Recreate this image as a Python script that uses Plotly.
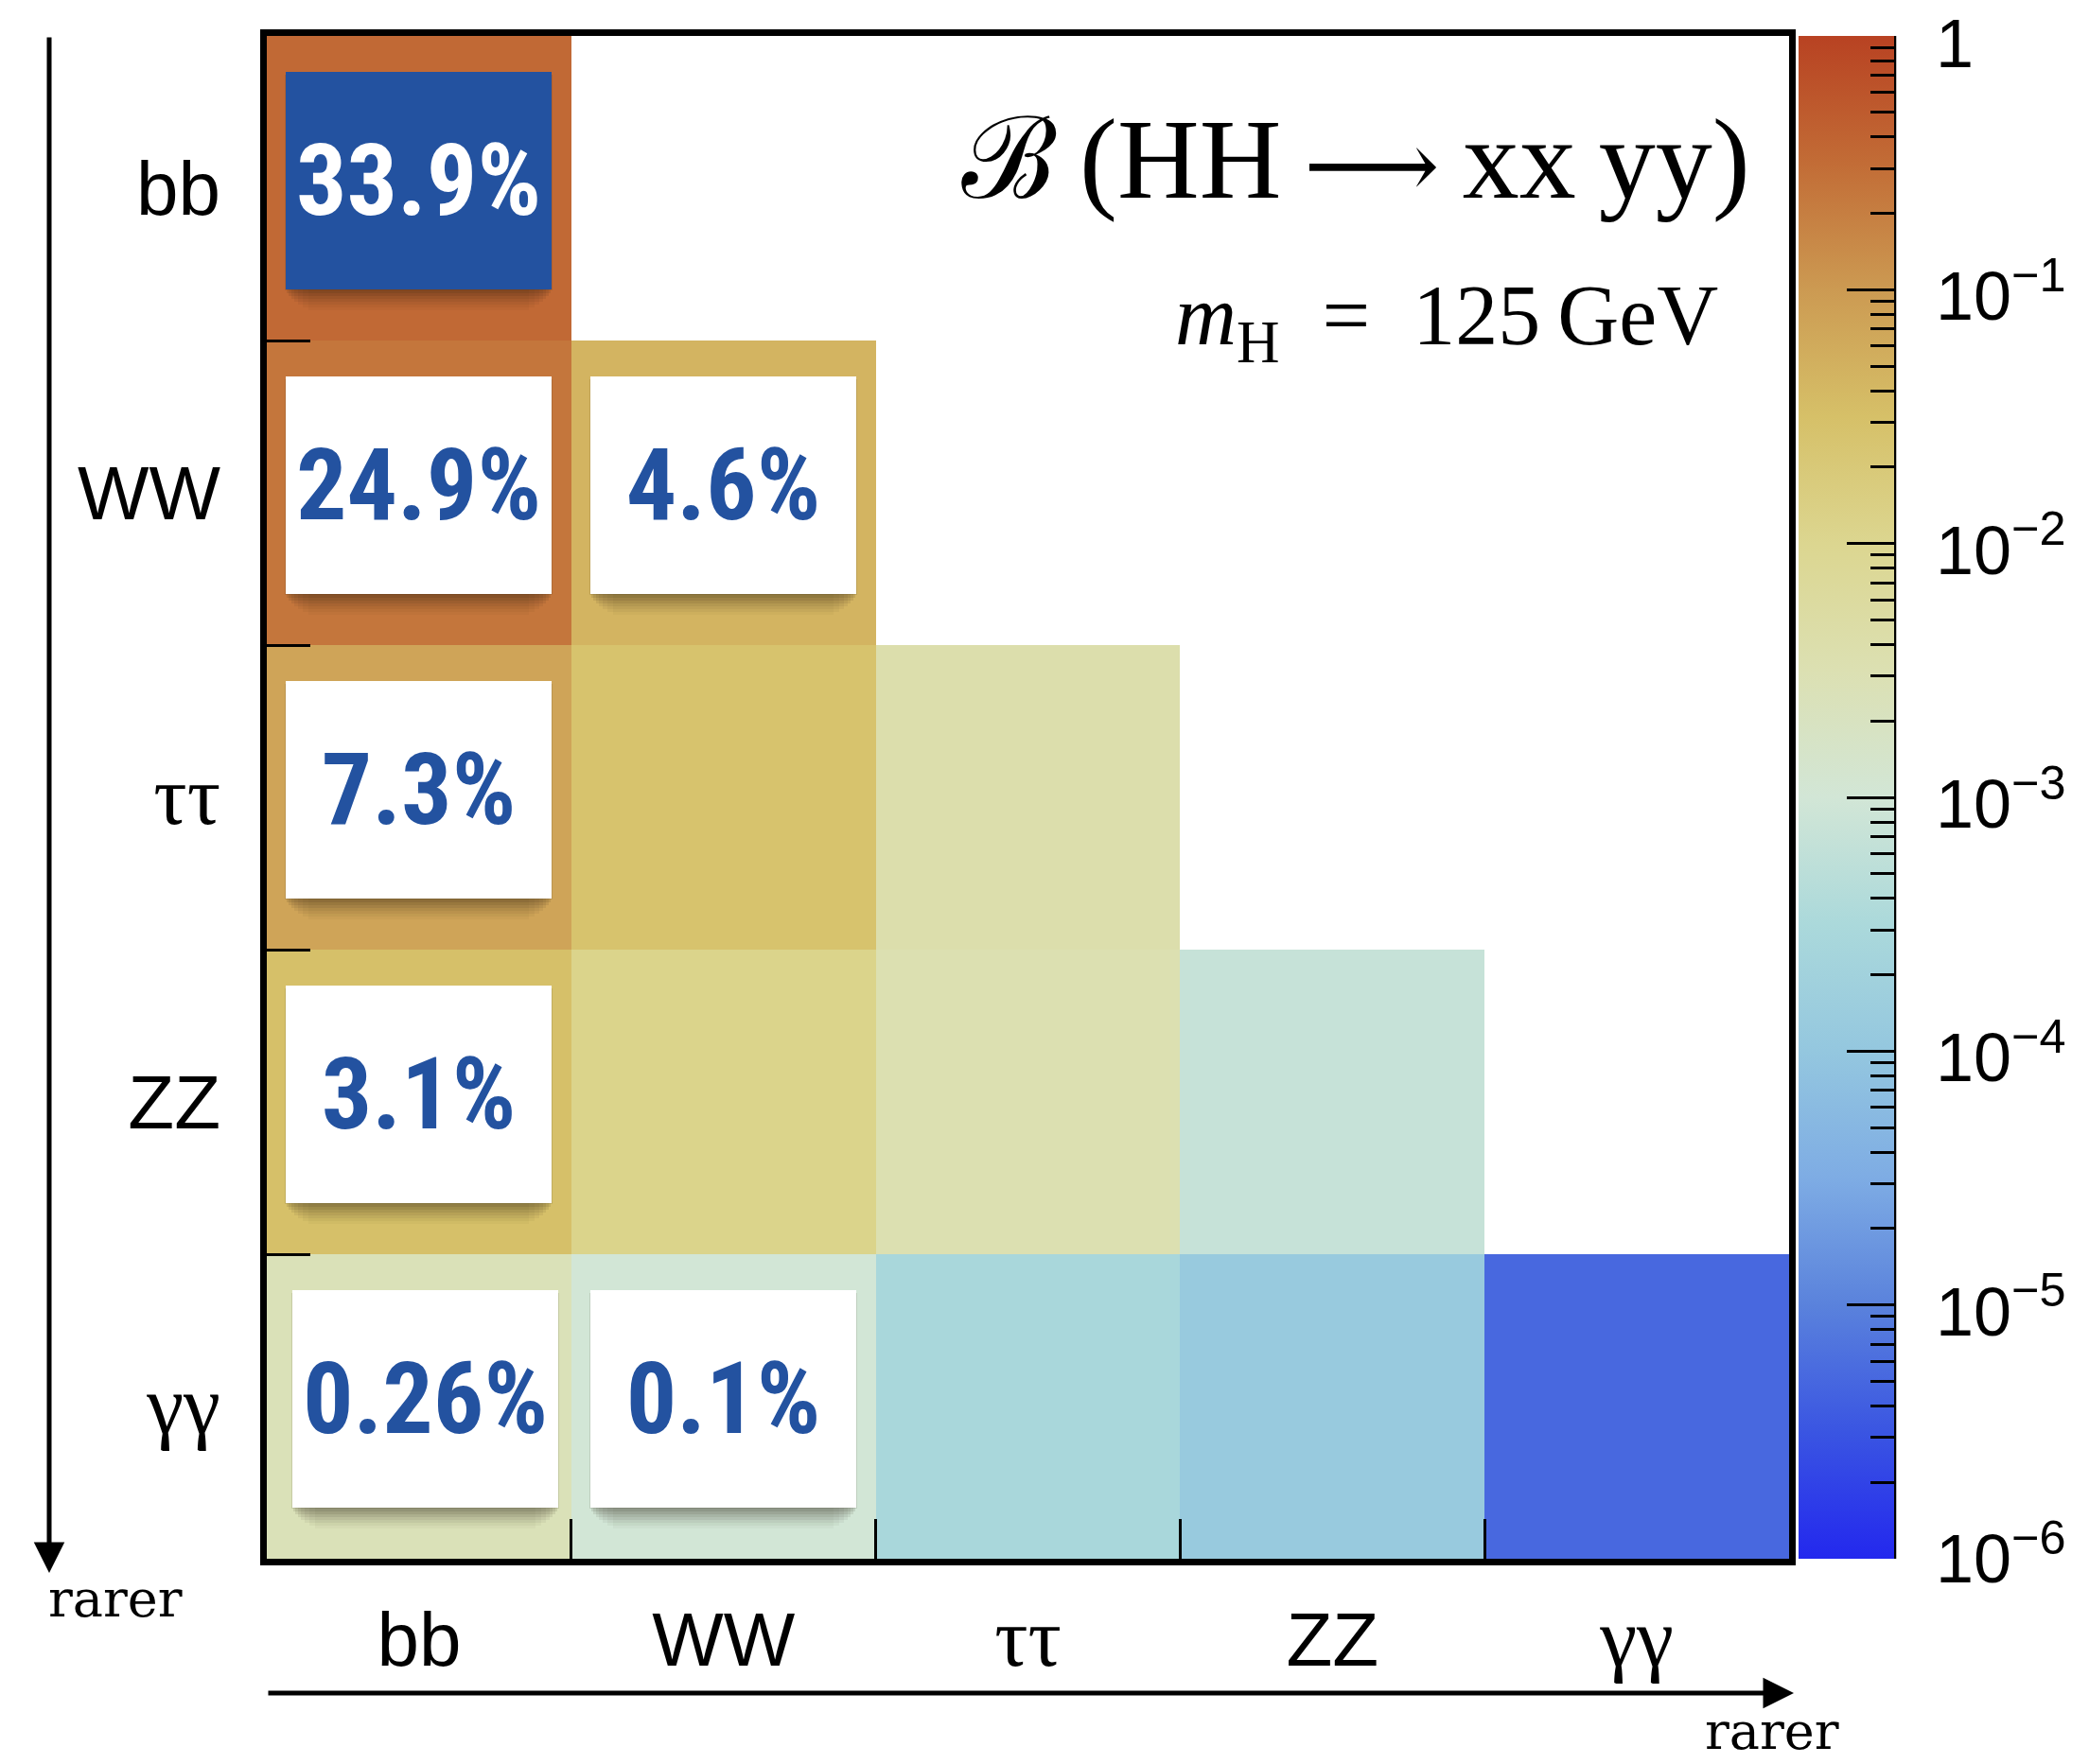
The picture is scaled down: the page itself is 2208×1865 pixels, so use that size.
import math
import plotly.graph_objects as go

# ---------------- data ----------------
channels = ["bb", "WW", "ττ", "ZZ", "γγ"]
serif_greek = "font-family:'Liberation Serif',serif;font-size:88px"
tick_text = ["bb", "WW", f"<span style=\"{serif_greek}\">ττ</span>", "ZZ",
             f"<span style=\"{serif_greek}\">γγ</span>"]

# B(HH -> xx yy): rows = y channel, columns = x channel (lower triangle only)
br_row_bb = [0.339, None, None, None, None]
br_row_WW = [0.249, 0.046, None, None, None]
br_row_tautau = [0.073, 0.027, 0.0039, None, None]
br_row_ZZ = [0.031, 0.0114, 0.0033, 0.0007, None]
br_row_gamgam = [0.0026, 0.0010, 0.00028, 0.00012, 0.0000052]
br_rows = [br_row_bb, br_row_WW, br_row_tautau, br_row_ZZ, br_row_gamgam]

label_x = ["bb", "bb", "WW", "bb", "bb", "bb", "WW"]
label_y = ["bb", "WW", "WW", "ττ", "ZZ", "γγ", "γγ"]
label_text = ["33.9%", "24.9%", "4.6%", "7.3%", "3.1%", "0.26%", "0.1%"]

cbar_tick_exp = [-6, -5, -4, -3, -2, -1, 0]
cbar_tick_text = ["10<sup>−6</sup>", "10<sup>−5</sup>", "10<sup>−4</sup>", "10<sup>−3</sup>",
                  "10<sup>−2</sup>", "10<sup>−1</sup>", "1"]

# ---------------- styling ----------------
z = [[(math.log10(v) if v is not None else None) for v in row] for row in br_rows]
ZMIN, ZMAX = -6, 0

colorscale = [
    [0.0, "#2328EE"],
    [0.0833, "#3A55E2"],
    [0.1667, "#5A82DC"],
    [0.25, "#7EACE4"],
    [0.3333, "#94C7DF"],
    [0.4167, "#ABD9DB"],
    [0.5, "#D2E6D6"],
    [0.5833, "#DCE0B2"],
    [0.6667, "#DCD690"],
    [0.75, "#D6C068"],
    [0.8333, "#CC9A52"],
    [0.9167, "#C26C36"],
    [1.0, "#B84222"],
]
clear_scale = [[0, "rgba(0,0,0,0)"], [1, "rgba(0,0,0,0)"]]

SANS = "Liberation Sans, Arial, sans-serif"
SERIF = "Liberation Serif, Times New Roman, serif"
NARROW = "Liberation Sans Narrow, Arial Narrow, Roboto Condensed, Liberation Sans, sans-serif"

W, H = 2208, 1865
L, R, T, B = 282, 317, 38, 217
PW, PH = W - L - R, H - T - B


def px(xp):
    return (xp - L) / PW


def py(yp):
    return (H - B - yp) / PH


# keep edge ticks just inside the colorbar range so they are drawn
eps = 1e-4
major_pos = [min(max(e, ZMIN + eps), ZMAX - eps) for e in cbar_tick_exp]
# labels sit a touch below their ticks, as in the original
label_pos = [min(max(e - 0.025, ZMIN + eps), ZMAX - 0.03) for e in cbar_tick_exp]
minor_vals = [math.log10(k * 10 ** e) for e in range(-6, 0) for k in range(2, 10)]

cb_x = px(1901)
cb_common = dict(x=cb_x, xanchor="left", xpad=0, ypad=0, y=0.5, yanchor="middle",
                 len=1.0, lenmode="fraction", thickness=101, thicknessmode="pixels",
                 outlinewidth=0, tickmode="array")

fig = go.Figure()
# visible trace with labelled colorbar
fig.add_trace(go.Heatmap(
    x=channels, y=channels, z=z, zmin=ZMIN, zmax=ZMAX, colorscale=colorscale,
    hoverinfo="skip",
    colorbar=dict(**cb_common, tickvals=label_pos, ticktext=cbar_tick_text,
                  ticks="outside", ticklen=30, tickcolor="rgba(0,0,0,0)",
                  ticklabeloverflow="allow",
                  tickfont=dict(family=SANS, size=72, color="black")),
))
# major inside ticks
fig.add_trace(go.Heatmap(
    x=channels, y=channels, z=z, zmin=ZMIN, zmax=ZMAX, colorscale=clear_scale,
    hoverinfo="skip",
    colorbar=dict(**cb_common, tickvals=major_pos, showticklabels=False,
                  ticks="inside", ticklen=50, tickwidth=2.5, tickcolor="black"),
))
# minor inside ticks
fig.add_trace(go.Heatmap(
    x=channels, y=channels, z=z, zmin=ZMIN, zmax=ZMAX, colorscale=clear_scale,
    hoverinfo="skip",
    colorbar=dict(**cb_common, tickvals=minor_vals, showticklabels=False,
                  ticks="inside", ticklen=25, tickwidth=2.5, tickcolor="black"),
))

annotations = []
shadow_layers = [(2, 2, 0.11), (5, 6, 0.10), (8, 10, 0.09), (11, 16, 0.08), (14, 22, 0.06),
                 (17, 30, 0.05), (20, 40, 0.04), (23, 52, 0.03)]
for xc, yc, txt in zip(label_x, label_y, label_text):
    is_top = (txt == label_text[0])
    xs = 7 if (yc == "γγ" and xc == "bb") else 0
    ys = 8
    for dy, dw, a in shadow_layers:
        annotations.append(dict(x=xc, y=yc, xref="x", yref="y", text="", showarrow=False,
                                width=285 - dw, height=228, bgcolor=f"rgba(35,25,10,{a})",
                                borderpad=0, borderwidth=0, xshift=xs, yshift=ys - dy))
    annotations.append(dict(
        x=xc, y=yc, xref="x", yref="y", text=f"<b>{txt}</b>", showarrow=False,
        width=281, height=230, bgcolor="#2352A0" if is_top else "white",
        borderpad=0, borderwidth=0, xshift=xs, yshift=ys,
        font=dict(family=NARROW, size=106, color="white" if is_top else "#2352A0")))

# title texts
arrow_span = "<span style=\"font-family:'DejaVu Serif',serif;font-size:100px\">⟶</span>"
annotations.append(dict(x=px(1852), y=py(168), xref="paper", yref="paper", xanchor="right",
                        yanchor="middle", showarrow=False,
                        text=f"ℬ\u2009(HH\u2009{arrow_span}\u2009xx\u2009yy)",
                        font=dict(family=SERIF, size=120, color="black")))
annotations.append(dict(x=px(1818), y=py(340), xref="paper", yref="paper", xanchor="right",
                        yanchor="middle", showarrow=False,
                        text="<i>m</i><sub>H</sub>\u2002=\u2002125\u2009GeV",
                        font=dict(family=SERIF, size=90, color="black")))
# arrows
annotations.append(dict(x=px(52), y=py(1663), xref="paper", yref="paper", text="",
                        showarrow=True, ax=0, ay=-1625, arrowhead=2, arrowsize=1.3,
                        arrowwidth=5, arrowcolor="black"))
annotations.append(dict(x=px(1896), y=py(1790), xref="paper", yref="paper", text="",
                        showarrow=True, ax=-1614, ay=0, arrowhead=2, arrowsize=1.3,
                        arrowwidth=5, arrowcolor="black"))
annotations.append(dict(x=px(122), y=py(1690), xref="paper", yref="paper", text="rarer",
                        showarrow=False, xanchor="center", yanchor="middle",
                        font=dict(family="DejaVu Serif, serif", size=54, color="black")))
annotations.append(dict(x=px(1873), y=py(1830), xref="paper", yref="paper", text="rarer",
                        showarrow=False, xanchor="center", yanchor="middle",
                        font=dict(family="DejaVu Serif, serif", size=54, color="black")))

axis_common = dict(type="category", tickmode="array", tickvals=channels, ticktext=tick_text,
                   tickson="boundaries", ticks="inside", tickwidth=2.5, tickcolor="black",
                   showline=True, linewidth=7, linecolor="black", mirror=True,
                   showgrid=False, zeroline=False,
                   tickfont=dict(family=SANS, size=80, color="black"))

fig.update_layout(
    width=W, height=H,
    margin=dict(l=L, r=R, t=T, b=B, pad=0),
    paper_bgcolor="white", plot_bgcolor="white",
    xaxis=dict(**axis_common, ticklen=42, ticklabelstandoff=10),
    yaxis=dict(**axis_common, ticklen=46, ticklabelstandoff=26, autorange="reversed"),
    annotations=annotations,
    shapes=[dict(type="line", xref="paper", yref="paper", x0=px(2003), x1=px(2003),
                 y0=0, y1=1, line=dict(color="black", width=2.5))],
    showlegend=False,
)

fig.write_html("out.html")
